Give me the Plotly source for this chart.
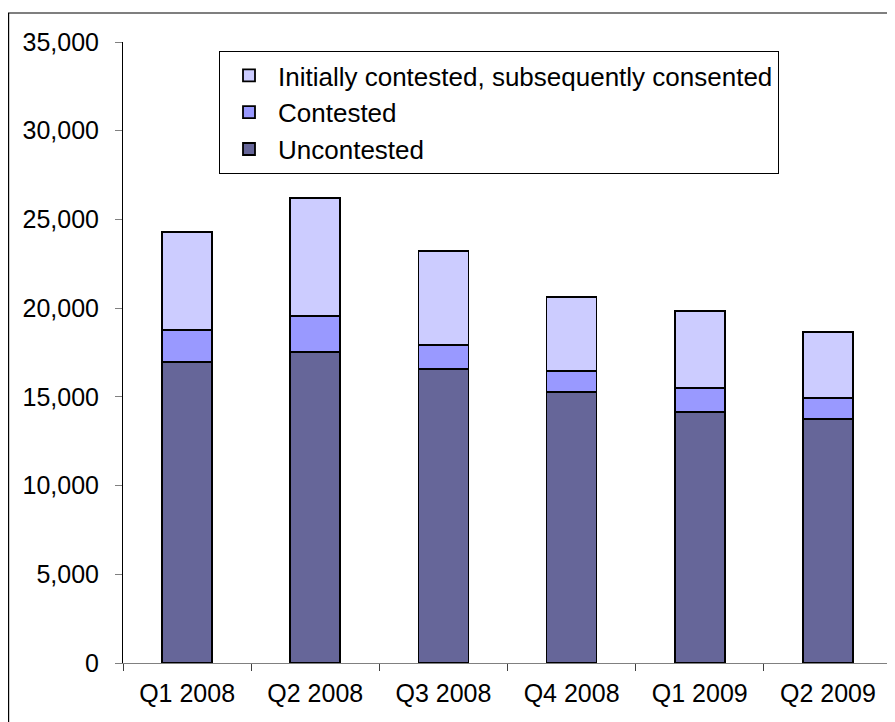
import plotly.graph_objects as go

categories = ["Q1 2008", "Q2 2008", "Q3 2008", "Q4 2008", "Q1 2009", "Q2 2009"]
uncontested = [16960, 17510, 16590, 15260, 14150, 13750]
contested = [1790, 2050, 1350, 1200, 1350, 1200]
initially = [5560, 6660, 5280, 4190, 4340, 3690]
y_ticks = [0, 5000, 10000, 15000, 20000, 25000, 30000, 35000]

series = [
    ("Uncontested", uncontested, "#666699"),
    ("Contested", contested, "#9999FF"),
    ("Initially contested, subsequently consented", initially, "#CCCCFF"),
]

fig = go.Figure()
for name, vals, col in series:
    fig.add_trace(go.Bar(
        x=categories, y=vals, name=name, width=0.39,
        marker=dict(color=col, line=dict(color="black", width=1.8)),
    ))

font = dict(family="Liberation Sans, Arial, sans-serif", size=25, color="black")
lfont = dict(family="Liberation Sans, Arial, sans-serif", size=26, color="black")

# page body has an 8px margin; figure is laid out in coordinates offset by 8px
W, H = 887, 714
L, R, T, B = 115, 3, 34, 59
pw, ph = W - L - R, H - T - B

fig.update_layout(
    barmode="stack",
    width=W, height=H,
    margin=dict(l=L, r=R, t=T, b=B, pad=0),
    paper_bgcolor="white", plot_bgcolor="white",
    font=font,
    showlegend=True,
    legend=dict(
        x=(211 - L) / pw, y=(H - B - 43) / ph, xanchor="left", yanchor="top",
        bordercolor="black", borderwidth=1, bgcolor="white",
        traceorder="reversed", font=lfont,
        itemwidth=48, entrywidth=602, entrywidthmode="pixels",
    ),
    xaxis=dict(
        showgrid=False, showline=True, linecolor="#808080", linewidth=1,
        ticks="outside", tickson="boundaries", ticklen=7, tickcolor="#404040",
        tickfont=font, ticklabelstandoff=8,
    ),
    yaxis=dict(
        range=[0, 35000], tickvals=y_ticks, tickformat=",",
        showgrid=False, showline=True, linecolor="black", linewidth=1,
        ticks="outside", ticklen=7, tickcolor="#808080",
        tickfont=font, ticklabelstandoff=11, zeroline=False,
    ),
    shapes=[dict(
        type="rect", xref="paper", yref="paper",
        x0=(0.6 - L) / pw, x1=(W + 10 - L) / pw,
        y0=-(B + 10) / ph, y1=(H - B - 5) / ph,
        line=dict(color="black", width=1.2), fillcolor="rgba(0,0,0,0)",
        layer="above",
    )],
)

fig.write_html("out.html")
